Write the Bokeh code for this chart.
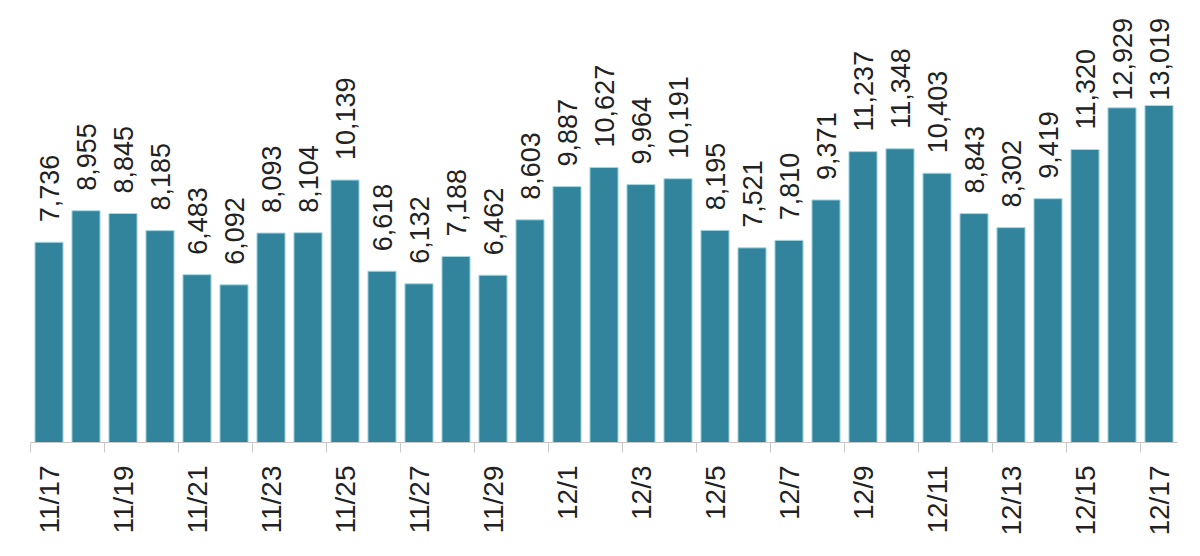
import math
from bokeh.plotting import figure
from bokeh.models import ColumnDataSource, FixedTicker, Range1d
from bokeh.core.properties import value
from bokeh.embed import file_html
from bokeh.resources import INLINE

dates = ["11/17", "11/18", "11/19", "11/20", "11/21", "11/22", "11/23", "11/24",
         "11/25", "11/26", "11/27", "11/28", "11/29", "11/30", "12/1", "12/2",
         "12/3", "12/4", "12/5", "12/6", "12/7", "12/8", "12/9", "12/10",
         "12/11", "12/12", "12/13", "12/14", "12/15", "12/16", "12/17"]
counts = [7736, 8955, 8845, 8185, 6483, 6092, 8093, 8104,
          10139, 6618, 6132, 7188, 6462, 8603, 9887, 10627,
          9964, 10191, 8195, 7521, 7810, 9371, 11237, 11348,
          10403, 8843, 8302, 9419, 11320, 12929, 13019]

# layout constants (pixels)
FRAME_H = 442
Y_END = 17075
PX = Y_END / FRAME_H          # data units per pixel
LABEL_GAP = 20                # gap between bar top and value label
LABEL_CAP = FRAME_H - 100     # labels kept inside the plot area

xs = list(range(len(dates)))
labels = [f"{v:,}" for v in counts]
label_y = [min(v + LABEL_GAP * PX, LABEL_CAP * PX) for v in counts]
src = ColumnDataSource(dict(x=xs, top=counts, label=labels, ly=label_y))

p = figure(width=1190, height=548, output_backend="svg", toolbar_location=None,
           x_range=Range1d(-0.5, len(dates) - 0.5), y_range=Range1d(0, Y_END),
           min_border_left=30, min_border_right=13, min_border_top=0,
           min_border_bottom=106)

p.vbar(x="x", top="top", bottom=0, width=0.76, source=src,
       fill_color="#31849c", line_color="#a6d9e4", line_width=1)

p.text(x="x", y="ly", text="label", source=src, angle=math.pi / 2,
       text_align="left", text_baseline="middle",
       text_font=value("Liberation Sans"), text_font_size="27px",
       text_color="#222222")

major = xs[::2]
minor = [t - 0.5 for t in major]
p.xaxis.ticker = FixedTicker(ticks=major, minor_ticks=minor)
p.xaxis.major_label_overrides = {i: dates[i] for i in major}
p.xaxis.major_label_orientation = math.pi / 2
p.xaxis.major_label_text_font = "Liberation Sans"
p.xaxis.major_label_text_font_size = "28px"
p.xaxis.major_label_text_color = "#222222"
p.xaxis.major_label_standoff = 13
p.xaxis.major_tick_line_color = None
p.xaxis.major_tick_in = 0
p.xaxis.major_tick_out = 10
p.xaxis.minor_tick_in = 0
p.xaxis.minor_tick_out = 10
p.xaxis.minor_tick_line_color = "#c8c8c8"
p.xaxis.axis_line_color = "#c8c8c8"

p.yaxis.visible = False
p.grid.visible = False
p.outline_line_color = None

open("out.html", "w").write(file_html(p, INLINE))
